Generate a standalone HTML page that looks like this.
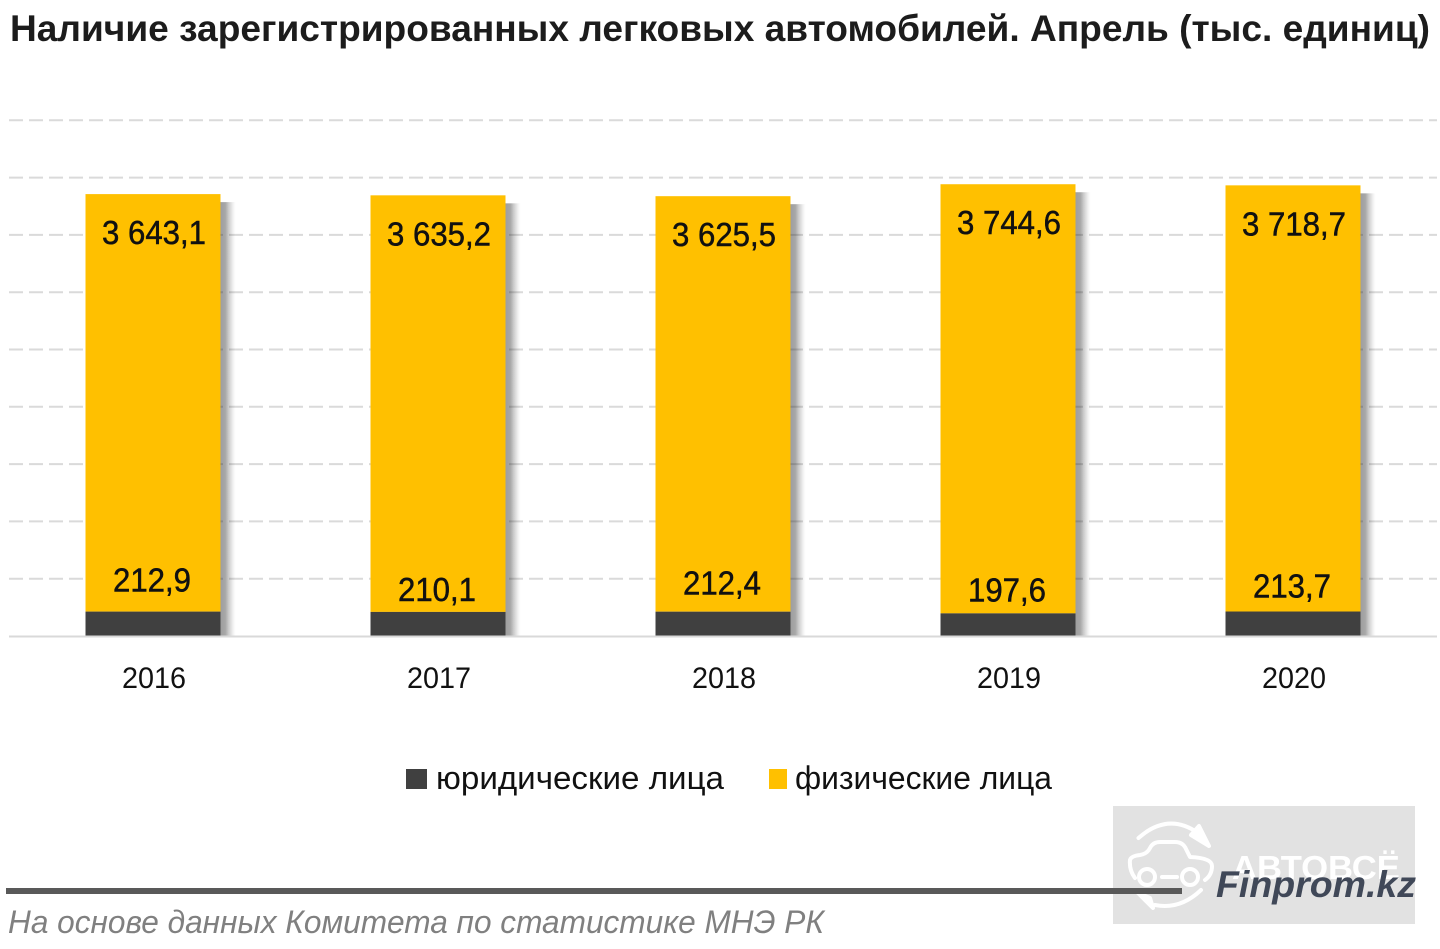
<!DOCTYPE html>
<html lang="ru">
<head>
<meta charset="utf-8">
<title>Наличие зарегистрированных легковых автомобилей</title>
<style>
html,body{margin:0;padding:0;background:#fff;width:1440px;height:949px;overflow:hidden}
svg{display:block}
text{font-family:"Liberation Sans","Noto Sans CJK SC",sans-serif}
</style>
</head>
<body>
<svg id="chart" xmlns="http://www.w3.org/2000/svg" width="1440" height="949" viewBox="0 0 1440 949">
  <defs>
    <linearGradient id="shadow-gradient" x1="0" x2="1" y1="0" y2="0">
      <stop offset="0" stop-color="#000" stop-opacity=".38"/>
      <stop offset=".33" stop-color="#000" stop-opacity=".34"/>
      <stop offset=".55" stop-color="#000" stop-opacity=".2"/>
      <stop offset=".8" stop-color="#000" stop-opacity=".07"/>
      <stop offset="1" stop-color="#000" stop-opacity="0"/>
    </linearGradient>
  </defs>
  <text x="10" y="41" font-size="37" font-weight="700" fill="#1c1c1c" textLength="1420" lengthAdjust="spacingAndGlyphs">Наличие зарегистрированных легковых автомобилей. Апрель (тыс. единиц)</text>
  <g id="grid"></g>
  <g id="bars"></g>
  <g id="labels"></g>
  <g id="xaxis"></g>

  <g>
    <rect x="406" y="769" width="21" height="20" fill="#404040"/>
    <text x="436" y="789" font-size="32" fill="#111" textLength="288" lengthAdjust="spacingAndGlyphs">юридические лица</text>
    <rect x="769" y="769" width="18" height="20" fill="#ffc000"/>
    <text x="795" y="789" font-size="32" fill="#111" textLength="257" lengthAdjust="spacingAndGlyphs">физические лица</text>
  </g>

  <g>
    <rect x="1113" y="806" width="302" height="118" fill="#e2e2e2"/>
    <g fill="none" stroke="#fff" stroke-width="4" stroke-linecap="round" stroke-linejoin="round">
      <path d="M1138.5,838 Q1168,812 1198,833"/>
      <path d="M1199,826 L1209,846 L1191,835 Z" fill="#fff"/>
      <path d="M1135,878 Q1129,870 1130,860 Q1131,856 1140,855 Q1147,854 1150,848 Q1153,842 1160,842 L1175,842 Q1183,842 1186,849 L1190,857 Q1212,858 1212,866 Q1212,875 1205,880"/>
      <circle cx="1147" cy="877" r="8"/>
      <circle cx="1190" cy="877" r="8"/>
      <path d="M1162,877 H1177"/>
      <path d="M1201,890 Q1180,910 1155,905"/>
      <path d="M1138,893 L1153,908 L1150,898 Z" fill="#fff"/>
    </g>
    <text x="1232" y="879" font-size="33" font-weight="700" fill="#fff" textLength="168" lengthAdjust="spacingAndGlyphs">АВТОВСЁ</text>
  </g>

  <rect x="6" y="888" width="1176" height="6" fill="#595959"/>
  <text x="1216" y="897" font-size="37" font-weight="700" font-style="italic" fill="#404858" textLength="200" lengthAdjust="spacingAndGlyphs">Finprom.kz</text>
  <text x="8" y="933" font-size="32" font-style="italic" fill="#808080" textLength="816" lengthAdjust="spacingAndGlyphs">На основе данных  Комитета по статистике МНЭ РК</text>
</svg>

<script>
const years = ['2016', '2017', '2018', '2019', '2020'];
const legalEntities = [212.9, 210.1, 212.4, 197.6, 213.7];
const individuals = [3643.1, 3635.2, 3625.5, 3744.6, 3718.7];
const gridTicks = [500, 1000, 1500, 2000, 2500, 3000, 3500, 4000, 4500];

// Layout only: the lower labels were hand-placed in the source chart.
const lowerLabelGap = [20, 11, 17, 12, 14];

const NS = 'http://www.w3.org/2000/svg';
const BASE_Y = 636;
const PX_PER_UNIT = 0.1146;
const BAR_WIDTH = 135;
const yScale = v => BASE_Y - v * PX_PER_UNIT;
const xCenter = i => 153 + i * 285;
const fmt = v => {
  const parts = v.toFixed(1).split('.');
  return parts[0].replace(/\B(?=(\d{3})+$)/g, ' ') + ',' + parts[1];
};
function make(tag, attrs, parent) {
  const el = document.createElementNS(NS, tag);
  for (const k in attrs) el.setAttribute(k, attrs[k]);
  parent.appendChild(el);
  return el;
}
const grid = document.getElementById('grid');
const bars = document.getElementById('bars');
const labels = document.getElementById('labels');
const xaxis = document.getElementById('xaxis');

gridTicks.forEach(t => {
  const y = yScale(t);
  const line = make('line', {x1: 9, x2: 1437, y1: y, y2: y, stroke: '#dadada', 'stroke-width': 2, 'stroke-dasharray': '14 6'}, grid);
  
  
});

const axisLine = make('line', {x1: 9, x2: 1437, y1: BASE_Y + .5, y2: BASE_Y + .5, stroke: '#d9d9d9', 'stroke-width': 2}, xaxis);



years.forEach((year, i) => {
  const cx = xCenter(i);
  const left = cx - BAR_WIDTH / 2;
  const legalTop = yScale(legalEntities[i]);
  const totalTop = yScale(legalEntities[i] + individuals[i]);

  const shadow = make('rect', {x: left + BAR_WIDTH, y: totalTop + 8, width: 15, height: BASE_Y - totalTop - 8, fill: 'url(#shadow-gradient)'}, bars);
  
  

  const top = make('rect', {x: left, y: totalTop, width: BAR_WIDTH, height: legalTop - totalTop, fill: '#ffc000'}, bars);
  
  

  const bottom = make('rect', {x: left, y: legalTop, width: BAR_WIDTH, height: BASE_Y - legalTop, fill: '#404040'}, bars);
  
  

  const upper = make('text', {x: cx + 1, y: totalTop + 50, 'font-size': 33, 'text-anchor': 'middle', fill: '#111', stroke: '#111', 'stroke-width': .5, textLength: 104, lengthAdjust: 'spacingAndGlyphs'}, labels);
  upper.textContent = fmt(individuals[i]);
  
  

  const lower = make('text', {x: cx - 1, y: legalTop - lowerLabelGap[i], 'font-size': 33, 'text-anchor': 'middle', fill: '#111', stroke: '#111', 'stroke-width': .5, textLength: 78, lengthAdjust: 'spacingAndGlyphs'}, labels);
  lower.textContent = fmt(legalEntities[i]);
  
  

  const tick = make('text', {x: cx + 1, y: 688, 'font-size': 30, 'text-anchor': 'middle', fill: '#111', textLength: 64, lengthAdjust: 'spacingAndGlyphs'}, xaxis);
  tick.textContent = year;
  
  
});
</script>
</body>
</html>
